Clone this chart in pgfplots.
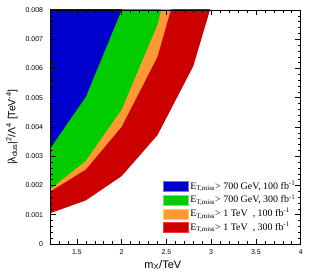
\documentclass[border=0pt]{standalone}
\usepackage{pgfplots}
\pgfplotsset{compat=1.18}
\usepackage{fontspec}
\setmainfont{Liberation Sans}
\newfontfamily\timesfont{Liberation Serif}
\definecolor{cblue}{RGB}{0,0,204}
\definecolor{cgreen}{RGB}{0,204,0}
\definecolor{corange}{RGB}{255,153,51}
\definecolor{cred}{RGB}{204,0,0}
\begin{document}
\begin{tikzpicture}
\path[use as bounding box] (0,0) rectangle (315bp,275bp);
\begin{axis}[
  at={(50bp,31bp)}, anchor=south west,
  width=250.7bp, height=234bp, scale only axis,
  xmin=1.2, xmax=4, ymin=0, ymax=0.008,
  axis on top,
  tick align=inside,
  major tick length=5.5bp, minor tick length=2.8bp,
  xtick={1.5,2,2.5,3,3.5,4},
  xticklabels={1.5,2,2.5,3,3.5,4},
  minor xtick={1.3,1.4,1.6,1.7,1.8,1.9,2.1,2.2,2.3,2.4,2.6,2.7,2.8,2.9,3.1,3.2,3.3,3.4,3.6,3.7,3.8,3.9},
  ytick={0,0.001,0.002,0.003,0.004,0.005,0.006,0.007,0.008},
  yticklabels={0,0.001,0.002,0.003,0.004,0.005,0.006,0.007,0.008},
  minor y tick num=4,
  scaled y ticks=false,
  ticklabel style={font=\fontsize{7}{8}\selectfont},
  yticklabel style={xshift=-3.4bp},
  xticklabel style={yshift=-2bp},
  axis line style={line width=0.6bp},
  every tick/.style={black, line width=0.5bp},
  xlabel={m\textsubscript{X}/TeV},
  ylabel={|λ\textsubscript{dus}|\textsuperscript{2}/Λ\textsuperscript{4} [TeV\textsuperscript{-4}]},
  xlabel style={at={(axis description cs:0.45,-0.0897)}, anchor=center, font=\fontsize{11}{12}\selectfont},
  ylabel style={at={(axis description cs:-0.1516,0.5)}, anchor=center, font=\fontsize{10.5}{12}\selectfont},
  legend style={at={(axis description cs:0.439,0.282)}, anchor=north west, draw=none, fill=none,
    font=\timesfont\fontsize{10}{11}\selectfont, row sep=1.2bp,
    nodes={inner sep=1.5pt, text height=7.5bp, text depth=2bp}},
  legend cell align=left,
  legend image code/.code={\draw[#1] (0bp,-5bp) rectangle (25bp,5bp);},
]
\addplot[fill=cred, draw=none, forget plot] table {
1.2 0.00105
1.6 0.00149
2.0 0.00232
2.4 0.00372
2.8 0.00608
3.2 0.0102
3.2 0.02
1.2 0.02
};
\addplot[fill=corange, draw=none, forget plot] table {
1.2 0.00179
1.6 0.00255
2.0 0.00401
2.4 0.0064
2.8 0.0107
2.8 0.02
1.2 0.02
};
\addplot[fill=cgreen, draw=none, forget plot] table {
1.2 0.00187
1.6 0.00285
2.0 0.0046
2.4 0.0075
2.8 0.0125
2.8 0.02
1.2 0.02
};
\addplot[fill=cblue, draw=none, forget plot] table {
1.2 0.00326
1.6 0.00503
2.0 0.0080
2.4 0.0125
2.4 0.02
1.2 0.02
};
\addlegendimage{fill=cblue, draw=cblue!55!white, line width=0.6bp}
\addlegendentry{E\textsubscript{T,miss}> 700 GeV, 100 fb\textsuperscript{-1}}
\addlegendimage{fill=cgreen, draw=cgreen!55!white, line width=0.6bp}
\addlegendentry{E\textsubscript{T,miss}> 700 GeV, 300 fb\textsuperscript{-1}}
\addlegendimage{fill=corange, draw=yellow!80!orange, line width=0.6bp}
\addlegendentry{E\textsubscript{T,miss}> 1 TeV~ , 100 fb\textsuperscript{-1}}
\addlegendimage{fill=cred, draw=red!80!white, line width=0.6bp}
\addlegendentry{E\textsubscript{T,miss}> 1 TeV~ , 300 fb\textsuperscript{-1}}
\end{axis}
\end{tikzpicture}
\end{document}
